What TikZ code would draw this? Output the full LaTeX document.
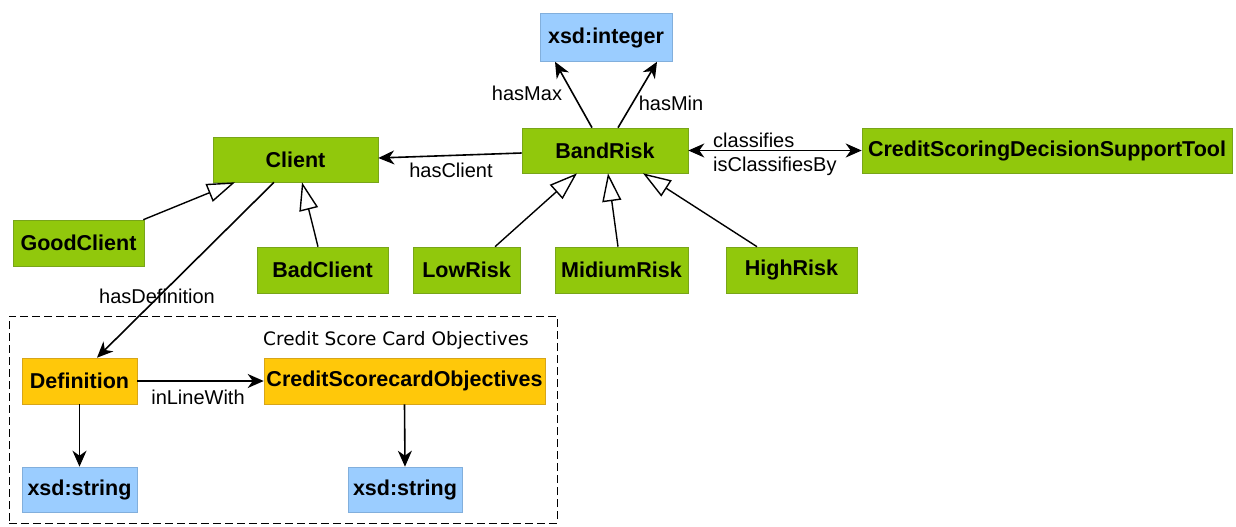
\documentclass[tikz,border=0pt]{standalone}
\usepackage{fontspec}
\setmainfont{Liberation Sans}
\newfontfamily\titlefont{DejaVu Sans}
\usetikzlibrary{arrows.meta}

\definecolor{clsgreen}{RGB}{145,200,12}
\definecolor{clsedge}{RGB}{120,165,25}
\definecolor{defgold}{RGB}{255,200,10}
\definecolor{defedge}{RGB}{215,165,25}
\definecolor{dtblue}{RGB}{155,205,255}
\definecolor{dtedge}{RGB}{130,175,220}

\begin{document}
\begin{tikzpicture}[x=1pt,y=-1pt,
  basebox/.style={inner sep=0pt, line width=0.6pt, minimum height=45pt,
    font=\bfseries\fontsize{21.5}{24}\selectfont, text=black},
  cls/.style={basebox, fill=clsgreen, draw=clsedge},
  defbox/.style={basebox, fill=defgold, draw=defedge, minimum height=46pt},
  dtype/.style={basebox, fill=dtblue, draw=dtedge},
  lbl/.style={inner sep=0pt, font=\fontsize{20}{22}\selectfont, text=black},
  tip/.style={Stealth[length=16pt,width=14pt,inset=5pt]},
  rel/.style={line width=1.6pt, -{Stealth[length=16pt,width=14pt,inset=5pt]}},
  birel/.style={line width=1.6pt, {Stealth[length=16pt,width=14pt,inset=5pt]}-{Stealth[length=16pt,width=14pt,inset=5pt]}},
  gen/.style={line width=1.4pt, -{Triangle[length=28pt,width=19pt,fill=white]}}
]
\useasboundingbox (0,0) rectangle (1236,527);

% grouping frame
\node[draw, dash pattern=on 8pt off 4pt, line width=1pt,
      minimum width=548pt, minimum height=207pt, inner sep=0pt] (group) at (283,419.5) {};

% classes
\node[dtype, minimum width=132pt, minimum height=48pt] (int) at (606,37.5) {xsd:integer};
\node[cls, minimum width=166pt] (band) at (605,150.5) {BandRisk};
\node[cls, minimum width=165pt] (client) at (295.5,159.5) {Client};
\node[cls, minimum width=370pt] (tool) at (1047,150.5) {CreditScoringDecisionSupportTool};
\node[cls, minimum width=131pt, minimum height=46pt] (good) at (78.5,243) {GoodClient};
\node[cls, minimum width=131pt, minimum height=46pt] (bad) at (322.5,270) {BadClient};
\node[cls, minimum width=107pt, minimum height=46pt] (low) at (466.5,270) {LowRisk};
\node[cls, minimum width=133pt, minimum height=46pt] (mid) at (621.5,270) {MidiumRisk};
\node[cls, minimum width=131pt, minimum height=46pt] (high) at (791.5,270) {HighRisk};
\node[defbox, minimum width=115pt] (def) at (79.5,381) {Definition};
\node[defbox, minimum width=281pt] (cso) at (404.5,381) {CreditScorecardObjectives};
\node[dtype, minimum width=115pt] (str1) at (79.5,489.5) {xsd:string};
\node[dtype, minimum width=114pt] (str2) at (405,489.5) {xsd:string};

% group title
\node[inner sep=0pt, font=\titlefont\fontsize{18.5}{21}\selectfont] (grouptitle) at (396,340) {Credit Score Card Objectives};

% object properties
\draw[rel] ([xshift=-13pt]band.north) -- ([xshift=-51pt]int.south);
\draw[rel] ([xshift=13pt]band.north) -- ([xshift=51pt]int.south);
\draw[rel] ([yshift=-2.5pt]band.west) -- ([yshift=1.5pt]client.east);
\draw[birel] (band.east) -- (tool.west);
\draw[rel] ([xshift=-21.5pt]client.south) -- ([xshift=17.5pt]def.north);
\draw[rel] (def.east) -- (cso.west);
\draw[rel] (def.south) -- (str1.north);
\draw[rel] (cso.south) -- (str2.north);

% subclass relations
\draw[gen] ([xshift=-1pt]good.north east) -- ([xshift=-60.5pt]client.south);
\draw[gen] ([xshift=-4.5pt]bad.north) -- ([xshift=6.5pt]client.south);
\draw[gen] ([xshift=28.5pt]low.north) -- ([xshift=-28pt]band.south);
\draw[gen] ([xshift=-3.5pt]mid.north) -- ([xshift=3pt]band.south);
\draw[gen] ([xshift=-34.5pt]high.north) -- ([xshift=38pt]band.south);

% property labels
\node[lbl] (lmax) at (527,93) {hasMax};
\node[lbl] (lmin) at (671,103) {hasMin};
\node[lbl] (lclient) at (451,170) {hasClient};
\node[lbl, anchor=west] (lcls) at (713,140) {classifies};
\node[lbl, anchor=west] (lclsby) at (713,166) {isClassifiesBy};
\node[lbl] (ldef) at (157,296) {hasDefinition};
\node[lbl] (lline) at (198,397) {inLineWith};
\end{tikzpicture}
\end{document}
